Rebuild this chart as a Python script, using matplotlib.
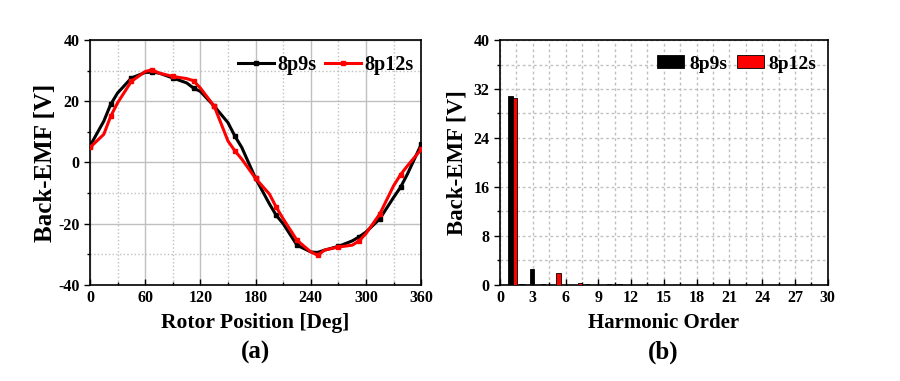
import numpy as np
import matplotlib
matplotlib.use('Agg')
import matplotlib.pyplot as plt
from matplotlib.ticker import MultipleLocator

plt.rcParams['font.family'] = ['Liberation Serif', 'DejaVu Serif']
plt.rcParams['font.weight'] = 'bold'
plt.rcParams['axes.unicode_minus'] = False

# rotor position [deg] and back-EMF [V]
angle = [0, 15, 22.5, 30, 45, 60, 67.5, 75, 90, 105, 112.5, 120, 135, 150, 157.5, 165,
         180, 195, 202.5, 210, 225, 240, 247.5, 255, 270, 285, 292.5, 300, 315, 330,
         337.5, 345, 360]
emf_9s = [5.4, 13.5, 19.0, 22.7, 27.6, 29.4, 29.5, 29.2, 27.6, 26.0, 24.3, 23.2, 18.4, 13.0, 8.6, 4.9,
          -5.2, -13.5, -17.3, -20.0, -27.0, -29.2, -29.4, -28.6, -27.4, -25.6, -24.3, -22.7, -18.4, -11.4,
          -8.1, -3.8, 5.9]
emf_12s = [4.9, 9.2, 15.1, 19.5, 26.5, 29.7, 30.3, 29.2, 28.1, 27.4, 26.7, 24.3, 18.4, 7.0, 3.8, 1.1,
           -5.2, -10.3, -14.6, -18.4, -25.4, -29.2, -30.3, -28.6, -27.6, -27.0, -25.6, -23.2, -16.8, -7.6,
           -4.0, -1.1, 4.3]

# harmonic spectrum
harm = np.arange(1, 13)
harm_9s = [30.9, 0.1, 2.6, 0.15, 0.05, 0.0, 0.05, 0.1, 0.0, 0.08, 0.12, 0.0]
harm_12s = [30.5, 0.0, 0.0, 0.0, 1.9, 0.0, 0.3, 0.0, 0.0, 0.0, 0.0, 0.0]

fig = plt.figure(figsize=(9, 3.81), dpi=100)
ax1 = fig.add_axes([0.1, 0.252, 0.368, 0.643])
ax2 = fig.add_axes([0.5556, 0.252, 0.364, 0.643])

mark = [i for i, a in enumerate(angle) if a % 22.5 == 0]
ax1.plot(angle, emf_9s, color='black', lw=2.2, marker='s', ms=2.5, markevery=mark, label='8p9s', zorder=3)
ax1.plot(angle, emf_12s, color='red', lw=2.2, marker='s', ms=2.5, markevery=mark, label='8p12s', zorder=4)
ax1.set_xlim(0, 360)
ax1.set_ylim(-40, 40)
ax1.xaxis.set_major_locator(MultipleLocator(60))
ax1.xaxis.set_minor_locator(MultipleLocator(30))
ax1.yaxis.set_major_locator(MultipleLocator(20))
ax1.yaxis.set_minor_locator(MultipleLocator(10))
ax1.grid(which='major', color='#c0c0c0', lw=1.0, ls='-')
ax1.grid(which='minor', color='#c0c0c0', lw=1.0, ls=':')
ax1.set_xlabel('Rotor Position [Deg]', fontsize=15.5, fontweight='bold', labelpad=5)
ax1.set_ylabel('Back-EMF [V]', fontsize=18, fontweight='bold', labelpad=1)
ax1.legend(loc='upper right', bbox_to_anchor=(1.0, 0.97), frameon=False, handlelength=1.8,
           handletextpad=0.15, ncol=2, columnspacing=0.4, borderaxespad=0.0,
           prop={'weight': 'bold', 'size': 14.5})
fig.text(0.284, 0.076, '(a)', ha='center', va='center', fontsize=18, fontweight='bold')

w = 0.4
ax2.bar(harm - 0.05, harm_9s, width=w, color='black', edgecolor='black', lw=0.6, label='8p9s', zorder=3)
ax2.bar(harm + 0.35, harm_12s, width=w, color='red', edgecolor='black', lw=0.6, label='8p12s', zorder=3)
ax2.set_xlim(0, 30)
ax2.set_ylim(0, 40)
ax2.xaxis.set_major_locator(MultipleLocator(3))
ax2.xaxis.set_minor_locator(MultipleLocator(1.5))
ax2.yaxis.set_major_locator(MultipleLocator(8))
ax2.yaxis.set_minor_locator(MultipleLocator(4))
ax2.grid(which='both', color='#c0c0c0', lw=1.0, ls=(0, (2, 2)))
ax2.set_xlabel('Harmonic Order', fontsize=15, fontweight='bold', labelpad=5)
ax2.set_ylabel('Back-EMF [V]', fontsize=16.5, fontweight='bold', labelpad=4)
ax2.legend(loc='upper right', bbox_to_anchor=(0.99, 0.97), frameon=False, handlelength=1.4,
           handleheight=0.67, handletextpad=0.25, ncol=2, columnspacing=0.5, borderaxespad=0.0,
           prop={'weight': 'bold', 'size': 14})
fig.text(0.737, 0.076, '(b)', ha='center', va='center', fontsize=18, fontweight='bold')

for ax in (ax1, ax2):
    ax.set_axisbelow(True)
    ax.tick_params(which='both', labelsize=11.5, width=1.0)
    ax.tick_params(axis='x', which='both', direction='in')
    ax.tick_params(axis='y', which='both', direction='out')
    ax.tick_params(which='major', length=4)
    ax.tick_params(which='minor', length=2.5)
    for lab in ax.get_xticklabels() + ax.get_yticklabels():
        lab.set_fontweight('bold')
    for s in ax.spines.values():
        s.set_linewidth(1.2)

fig.savefig('out.png', dpi=100)
